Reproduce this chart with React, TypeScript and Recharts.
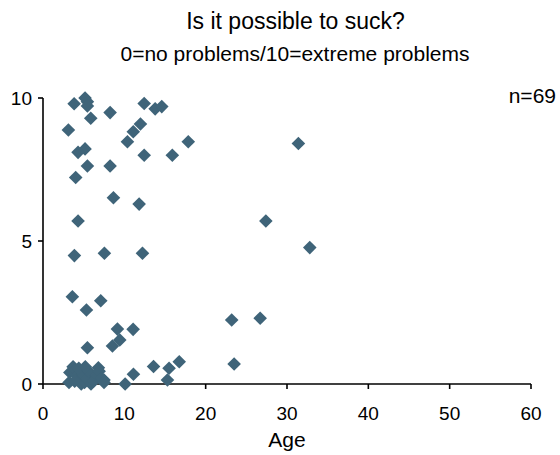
import React from "react";
import { ScatterChart, Scatter, XAxis, YAxis, Label } from "recharts";

const ages: number[] = [
  3.83, 5.17, 5.46, 5.46, 5.87, 8.25, 3.12, 12.44, 13.79, 14.6,
  11.98, 11.1, 10.38, 17.86, 5.17, 4.31, 12.44, 15.9, 5.46, 8.25,
  4.02, 8.66, 11.82, 4.31, 31.4, 27.4, 32.8, 23.2, 26.7, 23.5,
  16.75, 3.86, 7.55, 12.23, 3.61, 7.1, 5.34, 9.15, 11.08, 9.44,
  8.54, 5.46, 13.59, 15.5, 15.3, 11.12, 10.1, 6.81, 7.5,
  3.2, 3.3, 3.7, 4.0, 4.2, 4.5, 4.7, 4.9, 5.1, 5.4,
  5.6, 5.9, 6.2, 6.6, 6.9, 7.2, 7.5, 3.9, 4.4, 5.2,
];
const scores: number[] = [
  9.8, 10.0, 9.87, 9.72, 9.29, 9.49, 8.88, 9.81, 9.62, 9.7,
  9.09, 8.82, 8.47, 8.47, 8.22, 8.1, 8.0, 8.0, 7.62, 7.62,
  7.22, 6.51, 6.29, 5.7, 8.41, 5.7, 4.77, 2.24, 2.3, 0.7,
  0.78, 4.49, 4.57, 4.57, 3.05, 2.91, 2.59, 1.92, 1.91, 1.54,
  1.33, 1.27, 0.61, 0.55, 0.14, 0.34, 0.0, 0.57, 0.14,
  0.05, 0.4, 0.6, 0.5, 0.3, 0.15, 0.0, 0.35, 0.05, 0.2,
  0.45, 0.0, 0.1, 0.3, 0.45, 0.2, 0.05, 0.1, 0.55, 0.6,
];
const xTicks: number[] = [0, 10, 20, 30, 40, 50, 60];
const yTicks: number[] = [0, 5, 10];

const data = ages.map((a, i) => ({ age: a, score: scores[i] }));

const COLOR = "#3f6479";
const FONT = "'Liberation Sans', Arial, sans-serif";

const Diamond = (props: any) => {
  const { cx, cy } = props;
  const r = 6.8;
  return (
    <polygon
      points={`${cx},${cy - r} ${cx + r},${cy} ${cx},${cy + r} ${cx - r},${cy}`}
      fill={COLOR}
    />
  );
};

export default function App() {
  return (
    <div style={{ position: "absolute", left: 0, top: 0, width: 560, height: 455, background: "#fff", fontFamily: FONT }}>
      <div style={{ position: "absolute", left: 0, width: 591, top: 8, textAlign: "center", fontSize: 23, color: "#000", whiteSpace: "nowrap" }}>
        Is it possible to suck?
      </div>
      <div style={{ position: "absolute", left: 0, width: 590, top: 42, textAlign: "center", fontSize: 21, color: "#000", whiteSpace: "nowrap" }}>
        0=no problems/10=extreme problems
      </div>
      <div style={{ position: "absolute", right: 4, top: 84, fontSize: 21, color: "#000" }}>n=69</div>
      <ScatterChart width={560} height={455} margin={{ top: 98, right: 29, bottom: 0, left: 0 }}>
        <XAxis
          type="number"
          dataKey="age"
          domain={[0, 60]}
          ticks={xTicks}
          height={71}
          axisLine={{ stroke: "#000", strokeWidth: 1.6 }}
          tickLine={{ stroke: "#000", strokeWidth: 1.6 }}
          tickSize={5}
          tickMargin={18}
          tick={{ fill: "#000", fontSize: 19, fontFamily: FONT }}
          interval={0}
        >
          <Label value="Age" position="insideBottom" offset={8} style={{ fill: "#000", fontSize: 21, fontFamily: FONT }} />
        </XAxis>
        <YAxis
          type="number"
          dataKey="score"
          domain={[0, 10]}
          ticks={yTicks}
          width={43}
          axisLine={{ stroke: "#000", strokeWidth: 1.6 }}
          tickLine={{ stroke: "#000", strokeWidth: 1.6 }}
          tickSize={5}
          tickMargin={6}
          tick={{ fill: "#000", fontSize: 19, fontFamily: FONT }}
          interval={0}
        />
        <Scatter data={data} shape={<Diamond />} isAnimationActive={false} />
      </ScatterChart>
    </div>
  );
}
